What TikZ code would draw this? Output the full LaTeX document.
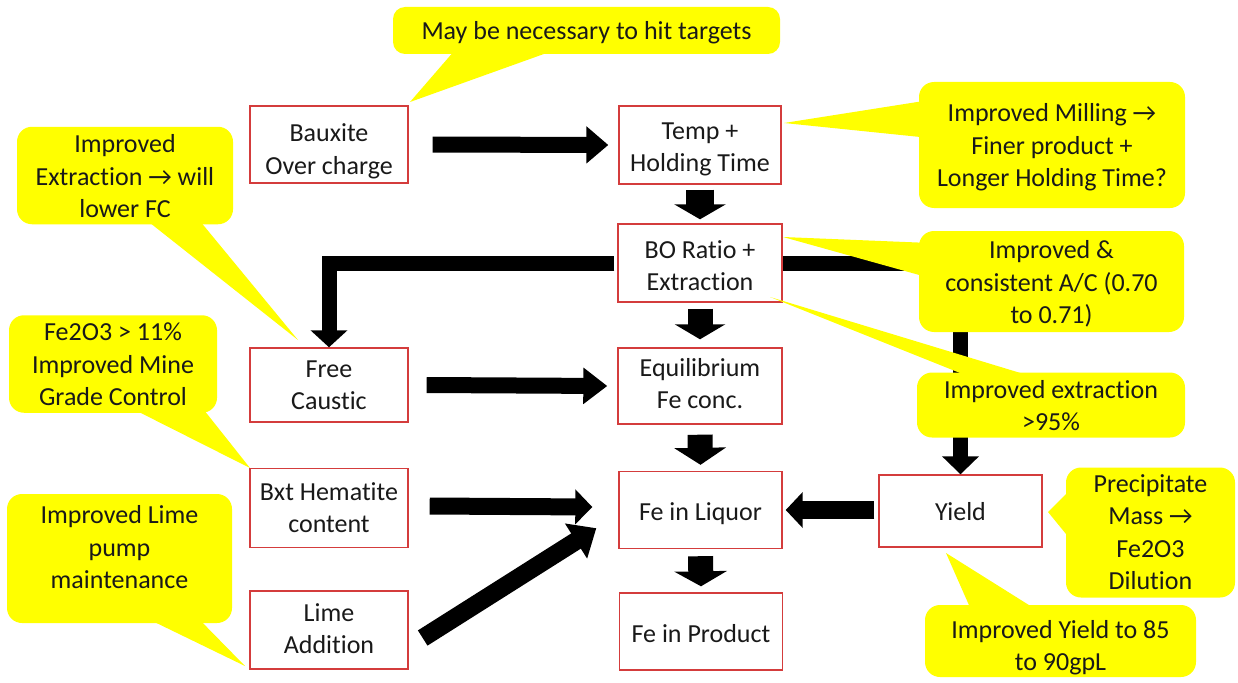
\documentclass[tikz,border=0pt]{standalone}
\usepackage{fontspec}
\setmainfont{Carlito}[Ligatures={NoCommon}]
\usetikzlibrary{arrows.meta}
\definecolor{boxred}{RGB}{212,60,60}
\definecolor{callyellow}{RGB}{255,255,0}
\newcommand\btext[2]{\raisebox{#1}[\height][\depth]{\begin{tabular}{@{}c@{}}#2\end{tabular}}}
\begin{document}
\begin{tikzpicture}[x=1pt,y=-1pt,
  every node/.style={font=\fontsize{26pt}{32.5pt}\selectfont, text=black!90},
  box/.style={draw=boxred, line width=1.4pt, fill=white, inner sep=0pt},
  callout/.style={fill=callyellow, rounded corners=15pt, inner sep=0pt},
  barrow/.style n args={3}{draw=black, line width=#1, -{Triangle[width=#2, length=#3]}},
]
\useasboundingbox (0,0) rectangle (1238,682);

% process boxes
\node[box, minimum width=158pt, minimum height=77pt] (baux) at (329,144.5) {\btext{-7pt}{Bauxite\\Over charge}};
\node[box, minimum width=162pt, minimum height=78pt] (temp) at (700,145) {\btext{-4pt}{Temp +\\Holding Time}};
\node[box, minimum width=164pt, minimum height=78pt] (bo) at (700,263) {\btext{-5pt}{BO Ratio +\\Extraction}};
\node[box, minimum width=158pt, minimum height=74pt] (free) at (329,385) {\btext{-2pt}{Free\\Caustic}};
\node[box, minimum width=164pt, minimum height=76pt] (equil) at (700,386) {\btext{0pt}{Equilibrium\\Fe conc.}};
\node[box, minimum width=158pt, minimum height=79pt] (bxt) at (329,508) {\btext{-2pt}{Bxt Hematite\\content}};
\node[box, minimum width=163pt, minimum height=77pt] (liquor) at (700.5,510) {\btext{-4pt}{Fe in Liquor}};
\node[box, minimum width=163pt, minimum height=72pt] (yield) at (960.5,511) {\btext{-3pt}{Yield}};
\node[box, minimum width=158pt, minimum height=78pt] (lime) at (329,630) {\btext{-1pt}{Lime\\Addition}};
\node[box, minimum width=163pt, minimum height=77pt] (product) at (701,631.5) {\btext{-4pt}{Fe in Product}};

% block arrows
\draw[barrow={16pt}{36pt}{22pt}] ([shift={(24,0)}]baux.east) -- ([shift={(-10,0)}]temp.west);
\draw[barrow={28pt}{51pt}{15pt}] ([shift={(0,5)}]temp.south) -- ([shift={(0,-4)}]bo.north);
\draw[barrow={15pt}{36pt}{17pt}] ([shift={(-3,0)}]bo.west) -| (free.north);
\draw[barrow={15pt}{36pt}{18pt}] (bo.east) -| (yield.north);
\draw[barrow={25pt}{50pt}{15pt}] ([shift={(0,6)}]bo.south) -- ([shift={(0,-8)}]equil.north);
\draw[barrow={16pt}{35pt}{24pt}] ([shift={(18,0)}]free.east) -- ([shift={(-10,0)}]equil.west);
\draw[barrow={25pt}{51pt}{17pt}] ([shift={(0,10)}]equil.south) -- ([shift={(0,-6)}]liquor.north);
\draw[barrow={17pt}{34pt}{17pt}] ([shift={(21,-2)}]bxt.east) -- ([shift={(-26,-3)}]liquor.west);
\draw[barrow={18pt}{40pt}{24pt}] ([shift={(14,8)}]lime.east) -- ([shift={(-22,-21)}]liquor.south west);
\draw[barrow={18pt}{35pt}{17pt}] ([shift={(-4,-1)}]yield.west) -- ([shift={(3,0)}]liquor.east);
\draw[barrow={25pt}{52pt}{15pt}] ([shift={(0,7)}]liquor.south) -- ([shift={(0,-6)}]product.north);

% callout pointers
\fill[callyellow] (410,102) -- (455,50) -- (555,50) -- cycle;
\fill[callyellow] (298,340) -- (140,215) -- (195,215) -- cycle;
\fill[callyellow] (784,123) -- (930,100) -- (930,138) -- cycle;
\fill[callyellow] (783,237) -- (930,243) -- (930,278) -- cycle;
\fill[callyellow] (770,297) -- (990,385) -- (1060,385) -- cycle;
\fill[callyellow] (250,468) -- (125,405) -- (200,405) -- cycle;
\fill[callyellow] (245,666) -- (140,615) -- (195,615) -- cycle;
\fill[callyellow] (1048,512) -- (1075,485) -- (1075,545) -- cycle;
\fill[callyellow] (946,553) -- (972,612) -- (1040,612) -- cycle;

% callouts
\node[callout, minimum width=387pt, minimum height=47pt, rounded corners=12pt] (c1) at (586.5,30.5) {\btext{-2.5pt}{May be necessary to hit targets}};
\node[callout, minimum width=216pt, minimum height=97pt] (c2) at (125,175.5) {\btext{-3pt}{Improved\\Extraction → will\\lower FC}};
\node[callout, minimum width=266pt, minimum height=126pt] (c3) at (1052,145) {\btext{-2.5pt}{Improved Milling →\\Finer product +\\Longer Holding Time?}};
\node[callout, minimum width=265pt, minimum height=101pt] (c4) at (1051.5,281.5) {\btext{-3pt}{Improved \&\\consistent A/C (0.70\\to 0.71)}};
\node[callout, minimum width=268pt, minimum height=62pt] (c5) at (1051,405) {\btext{-3pt}{Improved extraction\\>95\%}};
\node[callout, minimum width=208pt, minimum height=96pt] (c6) at (113,364) {\btext{-2.5pt}{Fe2O3 > 11\%\\Improved Mine\\Grade Control}};
\node[callout, minimum width=225pt, minimum height=129pt] (c7) at (119.5,558.5) {\btext{9pt}{Improved Lime\\pump\\maintenance}};
\node[callout, minimum width=169pt, minimum height=129pt] (c8) at (1150.5,532.5) {\btext{-2pt}{Precipitate\\Mass →\\Fe2O3\\Dilution}};
\node[callout, minimum width=271pt, minimum height=72pt] (c9) at (1060.5,641) {\btext{-7pt}{Improved Yield to 85\\to 90gpL}};
\end{tikzpicture}
\end{document}
